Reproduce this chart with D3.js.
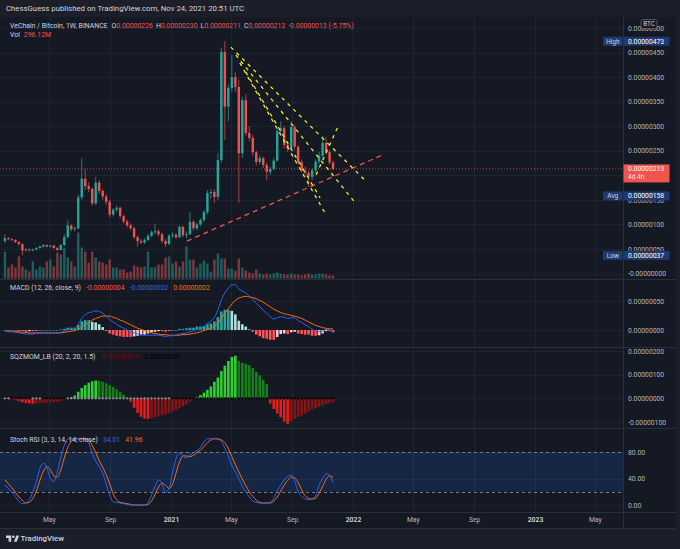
<!DOCTYPE html>
<html>
<head>
<meta charset="utf-8">
<title>VET/BTC 1W</title>
<script src="https://cdn.jsdelivr.net/npm/d3@7.9.0/dist/d3.min.js"></script>
<style>
  html, body { margin: 0; padding: 0; background: #1c1f29; }
  svg { display: block; font-family: Roboto, "Noto Sans", sans-serif; }
</style>
</head>
<body>
<svg id="chart" width="680" height="549"></svg>
<script>
// weekly bars, Feb 3 2020 .. Nov 22 2021 (prices in satoshi)
const weeks = d3.utcMonday.range(new Date(Date.UTC(2020, 1, 3)), new Date(Date.UTC(2021, 10, 23)));

const open = [
  66, 72, 70, 68, 64, 60, 47, 49, 47, 49,
  52, 55, 58, 55, 57, 52, 48, 58, 74, 98,
  90, 92, 155, 193, 178, 172, 143, 185, 168, 157,
  146, 120, 130, 134, 117, 106, 98, 92, 74, 66,
  63, 68, 77, 84, 86, 80, 66, 60, 77, 79,
  74, 95, 78, 80, 105, 92, 100, 109, 125, 164,
  166, 156, 231, 451, 340, 378, 400, 380, 245, 353,
  286, 276, 247, 227, 235, 221, 207, 213, 230, 290,
  296, 262, 255, 298, 258, 227, 209, 205, 197, 210,
  228, 240, 266, 247, 226
];
const high = [
  80, 74, 72, 70, 66, 61, 52, 51, 51, 54,
  57, 60, 59, 58, 58, 54, 60, 80, 108, 100,
  96, 160, 235, 213, 186, 176, 197, 190, 172, 162,
  150, 133, 138, 136, 120, 110, 102, 95, 78, 70,
  72, 80, 88, 102, 90, 83, 70, 80, 84, 82,
  98, 97, 86, 125, 110, 104, 112, 130, 170, 172,
  172, 245, 460, 473, 385, 445, 410, 395, 360, 365,
  300, 282, 250, 240, 238, 226, 218, 235, 296, 310,
  300, 270, 310, 302, 262, 232, 218, 210, 215, 232,
  248, 280, 278, 252, 230
];
const low = [
  62, 68, 66, 62, 57, 37, 44, 45, 45, 47,
  50, 53, 53, 53, 50, 46, 47, 56, 72, 86,
  86, 90, 150, 170, 166, 138, 140, 162, 150, 140,
  115, 116, 125, 112, 102, 94, 88, 70, 55, 60,
  60, 66, 74, 80, 76, 62, 54, 58, 72, 70,
  72, 74, 72, 78, 88, 88, 96, 104, 120, 152,
  144, 150, 225, 272, 310, 370, 370, 144, 235, 280,
  270, 240, 220, 222, 215, 190, 200, 210, 228, 282,
  255, 248, 250, 252, 222, 205, 200, 176, 190, 205,
  222, 236, 242, 222, 211
];
const close = [
  72, 70, 68, 64, 60, 47, 49, 47, 49, 52,
  55, 58, 55, 57, 52, 48, 58, 74, 98, 90,
  92, 155, 193, 178, 172, 143, 185, 168, 157, 146,
  120, 130, 134, 117, 106, 98, 92, 74, 66, 63,
  68, 77, 84, 86, 80, 66, 60, 77, 79, 74,
  95, 78, 80, 105, 92, 100, 109, 125, 164, 166,
  156, 231, 451, 340, 378, 400, 380, 245, 353, 286,
  276, 247, 227, 235, 221, 207, 213, 230, 290, 296,
  262, 255, 298, 258, 227, 209, 205, 197, 210, 228,
  240, 266, 247, 226, 213
];
// volume in millions
const volume = [
  2700, 1100, 1400, 1100, 2200, 1200, 900, 700, 1700, 900,
  1200, 1100, 1700, 1900, 1200, 2600, 2400, 3100, 2100, 1700,
  1200, 4600, 3100, 2700, 1600, 2700, 2100, 1700, 1600, 1400,
  1900, 1100, 1100, 900, 900, 600, 700, 1300, 1200, 1100,
  1200, 2700, 1100, 1100, 1400, 1400, 2100, 2200, 1500, 1700,
  1200, 1700, 3200, 1900, 1900, 1100, 1500, 1800, 1500, 700,
  1900, 2500, 2000, 2000, 1000, 1000, 800, 2000, 1100, 800,
  600, 500, 900, 500, 400, 500, 400, 500, 600, 500,
  400, 400, 500, 400, 400, 300, 400, 500, 400, 400,
  500, 500, 400, 300, 296.12
];

// MACD (satoshi)
const macdLine = [
  -2, -3, -3, -4, -5, -6, -7, -7, -7, -6,
  -6, -5, -5, -5, -5, -5, -4, -2, 1, 2,
  3, 10, 20, 26, 30, 31, 33, 32, 29, 24,
  18, 14, 10, 6, 3, 0, -3, -5, -7, -8,
  -9, -9, -9, -9, -9, -10, -11, -10, -10, -9,
  -7, -6, -5, -3, -2, 1, 3, 6, 11, 15,
  22, 34, 52, 64, 72, 78, 78, 71, 67, 64,
  58, 53, 46, 40, 34, 29, 23, 19, 21, 23,
  22, 20, 21, 21, 16, 13, 9, 6, 1, -2,
  -3, -2, 1, 0, -2
];
const signalLine = [
  -2, -2, -2, -3, -3, -4, -4, -5, -5, -5,
  -5, -5, -5, -5, -5, -5, -5, -4, -3, -2,
  -1, 1, 5, 9, 13, 17, 20, 22, 24, 24,
  24, 22, 20, 17, 15, 12, 9, 6, 3, 1,
  -1, -3, -5, -6, -7, -8, -8, -9, -9, -9,
  -9, -8, -8, -7, -6, -5, -3, -1, 1, 4,
  7, 12, 20, 29, 37, 45, 51, 55, 57, 58,
  57, 56, 54, 51, 48, 44, 40, 36, 33, 30,
  28, 27, 25, 24, 22, 20, 17, 14, 11, 8,
  6, 4, 3, 2, 2
];
const macdHist = [
  0, -1, -1, -1, -2, -2, -3, -2, -2, -1,
  -1, 0, 0, 0, 0, 0, 1, 2, 4, 4,
  4, 9, 15, 17, 17, 14, 13, 10, 5, 0,
  -6, -8, -10, -11, -12, -12, -12, -11, -10, -9,
  -8, -6, -4, -3, -2, -2, -3, -1, -1, 0,
  2, 2, 3, 4, 4, 6, 6, 7, 10, 11,
  15, 22, 32, 35, 35, 33, 27, 16, 10, 6,
  1, -3, -8, -11, -14, -15, -17, -17, -12, -7,
  -6, -7, -4, -3, -6, -7, -8, -8, -10, -10,
  -9, -6, -2, -2, -4
];

// Squeeze momentum (satoshi) and squeeze state: o = off, n = on
const sqzMom = [
  -2, -3, -5, -8, -12, -17, -20, -22, -23, -22,
  -20, -19, -18, -17, -16, -15, -12, -8, -3, 5,
  12, 28, 44, 56, 66, 72, 75, 74, 70, 64,
  56, 48, 38, 28, 16, 4, -14, -40, -62, -78,
  -86, -87, -84, -80, -76, -72, -68, -62, -56, -50,
  -42, -34, -26, -14, -4, 6, 14, 24, 36, 50,
  70, 88, 115, 138, 158, 175, 180, 158, 150, 146,
  140, 128, 112, 97, 78, 60, -22, -45, -65, -80,
  -98, -108, -96, -88, -80, -72, -64, -56, -48, -42,
  -36, -30, -24, -19, -16
];
const sqzState = [
  'oonnnnnnoo', 'onnnnnnnoo', 'oooooooooo', 'oooooooooo', 'oooooooonn',
  'nnnnnnnnnn', 'nnnnnnnnnn', 'nnnnnnnnnn', 'nnnnnnnnnn', 'nnnnn'
].join('').split('');

// Stoch RSI
const stochK = [
  30, 25, 19, 13, 5, 2, 3, 8, 20, 35,
  55, 63, 57, 40, 36, 50, 72, 90, 99, 100,
  100, 100, 100, 99, 94, 78, 66, 58, 48, 32,
  15, 5, 4, 3, 2, 1, 0, 0, 0, 0,
  0, 4, 15, 28, 38, 32, 19, 25, 48, 70,
  78, 74, 71, 75, 79, 82, 87, 95, 100, 100,
  100, 99, 96, 86, 74, 60, 50, 40, 28, 20,
  12, 6, 4, 3, 3, 3, 4, 10, 22, 30,
  38, 43, 45, 36, 20, 13, 9, 8, 9, 14,
  30, 40, 47, 45, 34.01
];
const stochD = [
  38, 32, 26, 19, 12, 7, 3, 4, 10, 21,
  37, 51, 58, 53, 44, 42, 53, 71, 87, 96,
  100, 100, 100, 100, 98, 90, 79, 67, 57, 46,
  32, 17, 8, 4, 3, 2, 1, 0, 0, 0,
  0, 1, 6, 16, 27, 33, 30, 25, 31, 48,
  65, 74, 74, 73, 75, 79, 83, 88, 94, 98,
  100, 100, 98, 94, 85, 73, 61, 50, 39, 29,
  20, 13, 7, 4, 3, 3, 3, 6, 12, 21,
  30, 37, 42, 41, 34, 23, 14, 10, 9, 10,
  18, 28, 39, 44, 41.96
];

// ticks (0.00000200 sits under the last-price tag, so it gets a grid line but no label)
const priceTicks = [0, 50, 100, 150, 200, 250, 300, 350, 400, 450, 500];
const priceLabelTicks = [0, 50, 100, 150, 250, 300, 350, 400, 450, 500];
const macdTicks = [0, 50];
const sqzTicks = [-100, 0, 100, 200];
const stochTicks = [0, 40, 80];
const timeTicks = ['2020-05-01', '2020-09-01', '2021-01-01', '2021-05-01', '2021-09-01',
  '2022-01-01', '2022-05-01', '2022-09-01', '2023-01-01', '2023-05-01'];
const timeLabels = ['May', 'Sep', '2021', 'May', 'Sep', '2022', 'May', 'Sep', '2023', 'May'];

// drawings
const redTrend = [['2021-02-02', 66], ['2022-02-28', 241]];
const yellowTrends = [
  [['2021-05-01', 461], ['2022-01-25', 190]],
  [['2021-05-11', 445], ['2022-01-07', 142]],
  [['2021-05-19', 429], ['2021-11-06', 123]],
  [['2021-05-31', 410], ['2021-10-27', 154]],
  [['2021-10-19', 201], ['2021-12-04', 304]]
];

// price-scale marks
const avgPrice = 158;
const countdown = '4d 4h';

const parse = d3.utcParse('%Y-%m-%d');
const fmtSat = v => (v < 0 ? '-' : '') + (Math.abs(v) / 1e8).toFixed(8);

const svg = d3.select('#chart');
const plotR = 623, frameR = 676;
const pane = { main: [17, 279], macd: [280, 347], sqz: [348, 428], stoch: [429, 512] };

const x = d3.scaleUtc()
  .domain([new Date(Date.UTC(2021, 0, 1)), new Date(Date.UTC(2022, 0, 1))])
  .range([171, 353]);
const yPrice = d3.scaleLinear().domain([0, 500]).range([273.5, 28]);
const yVol = d3.scaleLinear().domain([0, d3.max(volume)]).range([278.5, 232.5]);
const yMacd = d3.scaleLinear().domain([0, 50]).range([330, 301]);
const ySqz = d3.scaleLinear().domain([-100, 200]).range([422, 351]);
const yStoch = d3.scaleLinear().domain([0, 80]).range([505, 452]);

// background
svg.append('rect').attr('x', 0).attr('y', 17).attr('width', frameR).attr('height', 511).attr('fill', '#151924');

svg.append('text').attr('x', 6).attr('y', 11)
  .attr('font-size', 7.8).attr('fill', '#d1d4dc')
  .text('ChessGuess published on TradingView.com, Nov 24, 2021 20:51 UTC');

// clip paths
const defs = svg.append('defs');
Object.entries(pane).forEach(([k, [y0, y1]]) => {
  defs.append('clipPath').attr('id', 'clip-' + k)
    .append('rect').attr('x', 0).attr('y', y0).attr('width', plotR).attr('height', y1 - y0);
});
const layer = k => svg.append('g').attr('clip-path', `url(#clip-${k})`);

// grid
const grid = svg.append('g').attr('stroke', '#1f2331').attr('stroke-width', 1);
timeTicks.forEach(t => {
  const xv = Math.round(x(parse(t))) + 0.5;
  grid.append('line').attr('x1', xv).attr('x2', xv).attr('y1', 17).attr('y2', 512);
});
[[priceTicks, yPrice], [macdTicks, yMacd], [sqzTicks, ySqz], [stochTicks, yStoch]].forEach(([ticks, sc]) => {
  ticks.forEach(t => {
    const yv = Math.round(sc(t)) + 0.5;
    grid.append('line').attr('x1', 0).attr('x2', plotR).attr('y1', yv).attr('y2', yv);
  });
});

// ---- main pane ----
const gMain = layer('main');
const isUp = i => close[i] >= open[i];

gMain.selectAll('rect.vol').data(volume).join('rect')
  .attr('class', 'vol')
  .attr('x', (d, i) => x(weeks[i]) - 1.2)
  .attr('width', 2.4)
  .attr('y', d => yVol(d))
  .attr('height', d => yVol(0) - yVol(d))
  .attr('fill', (d, i) => isUp(i) ? 'rgba(38,166,154,0.5)' : 'rgba(239,83,80,0.5)');

gMain.selectAll('line.wick').data(weeks).join('line')
  .attr('class', 'wick')
  .attr('x1', d => x(d)).attr('x2', d => x(d))
  .attr('y1', (d, i) => yPrice(high[i])).attr('y2', (d, i) => yPrice(low[i]))
  .attr('stroke', (d, i) => isUp(i) ? '#26a69a' : '#ef5350')
  .attr('stroke-width', 0.7);

gMain.selectAll('rect.body').data(weeks).join('rect')
  .attr('class', 'body')
  .attr('x', d => x(d) - 1.2)
  .attr('width', 2.4)
  .attr('y', (d, i) => yPrice(Math.max(open[i], close[i])))
  .attr('height', (d, i) => Math.max(0.8, Math.abs(yPrice(open[i]) - yPrice(close[i]))))
  .attr('fill', (d, i) => isUp(i) ? '#26a69a' : '#ef5350');

const last = close.length - 1;
gMain.append('line')
  .attr('x1', 0).attr('x2', plotR)
  .attr('y1', yPrice(close[last])).attr('y2', yPrice(close[last]))
  .attr('stroke', '#ef5350').attr('stroke-width', 0.8).attr('stroke-dasharray', '1,2');

const segLine = d3.line().x(d => x(parse(d[0]))).y(d => yPrice(d[1]));
gMain.append('path').attr('d', segLine(redTrend))
  .attr('fill', 'none').attr('stroke', '#f05350').attr('stroke-width', 1.3).attr('stroke-dasharray', '5,4');
yellowTrends.forEach(seg => {
  gMain.append('path').attr('d', segLine(seg))
    .attr('fill', 'none').attr('stroke', '#f5e52f').attr('stroke-width', 1.3).attr('stroke-dasharray', '3.5,4.5');
});

// legend main
const lg = svg.append('text').attr('x', 10).attr('y', 27.5).attr('font-size', 6.9).attr('fill', '#d1d4dc');
lg.append('tspan').text('VeChain / Bitcoin, 1W, BINANCE');
[['O', open[last]], ['H', high[last]], ['L', low[last]], ['C', close[last]]].forEach(([k, v], j) => {
  lg.append('tspan').attr('dx', j === 0 ? 4 : 3).attr('fill', '#d1d4dc').text(k);
  lg.append('tspan').attr('fill', '#ef5350').text(fmtSat(v));
});
const chg = close[last] - close[last - 1];
lg.append('tspan').attr('dx', 3).attr('fill', '#ef5350')
  .text(fmtSat(chg) + ' (' + (chg / close[last - 1] * 100).toFixed(2) + '%)');

const vl = svg.append('text').attr('x', 10).attr('y', 36.5).attr('font-size', 6.9).attr('fill', '#d1d4dc');
vl.append('tspan').text('Vol');
vl.append('tspan').attr('dx', 4).attr('fill', '#ef5350').text(volume[last].toFixed(2) + 'M');

// ---- MACD pane ----
const gMacd = layer('macd');
const histColor = (v, i) => {
  const p = i > 0 ? macdHist[i - 1] : 0;
  return v >= 0 ? (v < p ? '#b2dfdb' : '#26a69a') : (v > p ? '#ffcdd2' : '#ff5252');
};
gMacd.selectAll('rect').data(macdHist).join('rect')
  .attr('x', (d, i) => x(weeks[i]) - 1.3)
  .attr('width', 2.6)
  .attr('y', d => Math.min(yMacd(d), yMacd(0)))
  .attr('height', d => Math.max(0.6, Math.abs(yMacd(d) - yMacd(0))))
  .attr('fill', histColor);
const lineOf = (arr, sc) => d3.line().x((d, i) => x(weeks[i])).y(d => sc(d)).curve(d3.curveMonotoneX)(arr);
gMacd.append('path').attr('d', lineOf(signalLine, yMacd)).attr('fill', 'none').attr('stroke', '#ff6d00').attr('stroke-width', 1);
gMacd.append('path').attr('d', lineOf(macdLine, yMacd)).attr('fill', 'none').attr('stroke', '#2962ff').attr('stroke-width', 1);

const ml = svg.append('text').attr('x', 10).attr('y', 289.5).attr('font-size', 6.9).attr('fill', '#d1d4dc');
ml.append('tspan').text('MACD (12, 26, close, 9)');
ml.append('tspan').attr('dx', 5).attr('fill', '#ff5252').text(fmtSat(macdHist[last]));
ml.append('tspan').attr('dx', 5).attr('fill', '#2962ff').text(fmtSat(macdLine[last]));
ml.append('tspan').attr('dx', 5).attr('fill', '#ff6d00').text(fmtSat(signalLine[last]));

// ---- SQZMOM pane ----
const gSqz = layer('sqz');
const sqzColor = (v, i) => {
  const p = i > 0 ? sqzMom[i - 1] : 0;
  return v > 0 ? (v > p ? '#2fcf2f' : '#187f18') : (v < p ? '#e21d1d' : '#861515');
};
gSqz.selectAll('rect').data(sqzMom).join('rect')
  .attr('x', (d, i) => x(weeks[i]) - 1.3)
  .attr('width', 2.6)
  .attr('y', d => Math.min(ySqz(d), ySqz(0)))
  .attr('height', d => Math.abs(ySqz(d) - ySqz(0)))
  .attr('fill', sqzColor);
gSqz.selectAll('path.cross').data(sqzState).join('path')
  .attr('class', 'cross')
  .attr('d', (d, i) => {
    const cx = x(weeks[i]), cy = ySqz(0);
    return `M${cx - 1.3},${cy}H${cx + 1.3}M${cx},${cy - 1.3}V${cy + 1.3}`;
  })
  .attr('stroke', d => d === 'n' ? '#000000' : '#8c8f99')
  .attr('stroke-width', 0.9);

const sl = svg.append('text').attr('x', 10).attr('y', 358.5).attr('font-size', 6.9).attr('fill', '#d1d4dc');
sl.append('tspan').text('SQZMOM_LB (20, 2, 20, 1.5)');
sl.append('tspan').attr('dx', 5).attr('fill', '#800000').text(fmtSat(sqzMom[last]));
sl.append('tspan').attr('dx', 5).attr('fill', '#000000').text(fmtSat(0));

// ---- Stoch RSI pane ----
const gSt = layer('stoch');
gSt.append('rect').attr('x', 0).attr('width', plotR)
  .attr('y', yStoch(80)).attr('height', yStoch(20) - yStoch(80))
  .attr('fill', 'rgba(33,110,243,0.16)');
[80, 20].forEach(v => {
  gSt.append('line').attr('x1', 0).attr('x2', plotR)
    .attr('y1', Math.round(yStoch(v)) + 0.5).attr('y2', Math.round(yStoch(v)) + 0.5)
    .attr('stroke', '#787b86').attr('stroke-width', 1).attr('stroke-dasharray', '3,3');
});
gSt.append('path').attr('d', lineOf(stochD, yStoch)).attr('fill', 'none').attr('stroke', '#ff6d00').attr('stroke-width', 1);
gSt.append('path').attr('d', lineOf(stochK, yStoch)).attr('fill', 'none').attr('stroke', '#2962ff').attr('stroke-width', 1);

const stl = svg.append('text').attr('x', 10).attr('y', 441.5).attr('font-size', 6.9).attr('fill', '#d1d4dc');
stl.append('tspan').text('Stoch RSI (3, 3, 14, 14, close)');
stl.append('tspan').attr('dx', 5).attr('fill', '#2962ff').text(stochK[last].toFixed(2));
stl.append('tspan').attr('dx', 5).attr('fill', '#ff6d00').text(stochD[last].toFixed(2));

// ---- separators ----
const sep = svg.append('g').attr('stroke', '#2a2e39').attr('stroke-width', 1);
[279, 347, 428, 512].forEach(yv => sep.append('line').attr('x1', 0).attr('x2', frameR).attr('y1', yv + 0.5).attr('y2', yv + 0.5));
sep.append('line').attr('x1', plotR + 0.5).attr('x2', plotR + 0.5).attr('y1', 17).attr('y2', 528);
sep.append('line').attr('x1', 0).attr('x2', frameR).attr('y1', 528.5).attr('y2', 528.5);

// ---- axes ----
const styleAxis = g => {
  g.select('.domain').remove();
  g.attr('font-family', null).attr('font-size', null);
  g.selectAll('text').attr('fill', '#b2b5be').attr('font-size', 6.8);
};
const rightAxis = (sc, ticks, fmt) => svg.append('g')
  .attr('transform', `translate(${plotR},0)`)
  .call(d3.axisRight(sc).tickValues(ticks).tickFormat(fmt).tickSize(0).tickPadding(5))
  .call(styleAxis);
rightAxis(yPrice, priceLabelTicks, d => d === 0 ? '-' + fmtSat(0) : fmtSat(d));
rightAxis(yMacd, macdTicks, fmtSat);
rightAxis(ySqz, sqzTicks, fmtSat);
rightAxis(yStoch, stochTicks, d => d.toFixed(2));

svg.append('g')
  .attr('transform', 'translate(0,512)')
  .call(d3.axisBottom(x).tickValues(timeTicks.map(parse)).tickFormat((d, i) => timeLabels[i]).tickSize(0).tickPadding(5))
  .call(styleAxis)
  .call(g => g.selectAll('text')
    .attr('fill', (d, i) => /^\d/.test(timeLabels[i]) ? '#d1d4dc' : '#b2b5be')
    .attr('font-weight', (d, i) => /^\d/.test(timeLabels[i]) ? 600 : 400));

// ---- price scale labels ----
const tagBox = (label, value, fill) => {
  const yc = yPrice(value);
  svg.append('rect').attr('x', 603).attr('y', yc - 4.5).attr('width', 19.5).attr('height', 9).attr('fill', fill);
  svg.append('text').attr('x', 612.8).attr('y', yc + 2.3).attr('text-anchor', 'middle')
    .attr('font-size', 6.6).attr('fill', '#d1d4dc').text(label);
  svg.append('rect').attr('x', plotR + 0.5).attr('y', yc - 4.5).attr('width', 46).attr('height', 9).attr('fill', fill);
  svg.append('text').attr('x', 628).attr('y', yc + 2.3).attr('font-size', 6.8).attr('fill', '#ffffff').text(fmtSat(value));
};
tagBox('High', d3.max(high), '#1e3a70');
tagBox('Avg', avgPrice, '#1e3a70');
tagBox('Low', d3.min(low), '#1e3a70');

const yLast = yPrice(close[last]);
svg.append('rect').attr('x', plotR + 0.5).attr('y', yLast - 4.5).attr('width', 46).attr('height', 18).attr('fill', '#f05350');
svg.append('text').attr('x', 628).attr('y', yLast + 2.3).attr('font-size', 6.8).attr('fill', '#ffffff').text(fmtSat(close[last]));
svg.append('text').attr('x', 628).attr('y', yLast + 10.5).attr('font-size', 6.6).attr('fill', '#ffe0e0').text(countdown);

svg.append('rect').attr('x', 641).attr('y', 19.5).attr('width', 16).attr('height', 9).attr('rx', 2)
  .attr('fill', '#151924').attr('stroke', '#6a6d78').attr('stroke-width', 0.7);
svg.append('text').attr('x', 649).attr('y', 26.3).attr('text-anchor', 'middle')
  .attr('font-size', 6.3).attr('fill', '#d1d4dc').text('BTC');

// ---- footer logo ----
const logo = svg.append('g').attr('fill', '#d1d4dc');
logo.append('path').attr('d', 'M6,535.5h5.2v6.2h-2.6v-3.7h-2.6z');
logo.append('circle').attr('cx', 13.3).attr('cy', 536.8).attr('r', 1.3);
logo.append('path').attr('d', 'M16.3,535.5h2.8l-2.4,6.2h-2.8z');
svg.append('text').attr('x', 20.5).attr('y', 541.2).attr('font-size', 7.8).attr('font-weight', 500)
  .attr('fill', '#d1d4dc').text('TradingView');
</script>
</body>
</html>
